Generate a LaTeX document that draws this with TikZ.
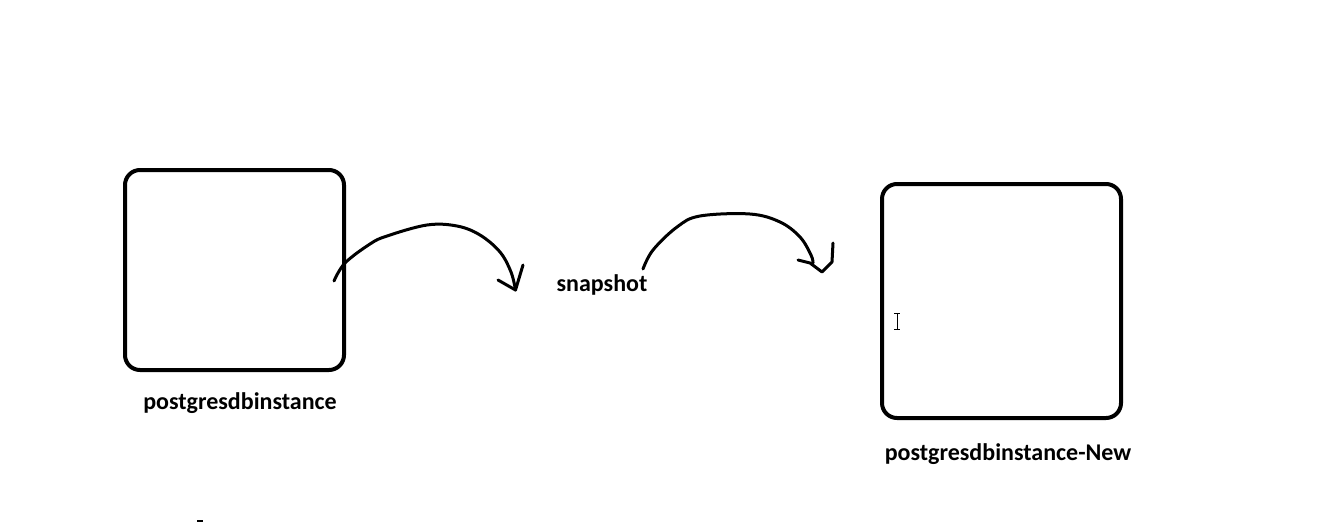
\documentclass[tikz,border=0pt]{standalone}
\usepackage{fontspec}
\setmainfont{Carlito}
\begin{document}
\begin{tikzpicture}[x=1pt,y=-1pt,
  box/.style={draw, line width=4pt, rounded corners=15pt, inner sep=0pt},
  lbl/.style={font=\bfseries\fontsize{24}{28}\selectfont, inner sep=0pt, anchor=base},
  sketch/.style={line width=3pt, line cap=round, line join=round}]
\useasboundingbox[fill=white] (0,0) rectangle (1333,523);
% boxes
\node[box, minimum width=219pt, minimum height=200pt] (src) at (234.5,270) {};
\node[box, minimum width=239pt, minimum height=234pt] (dst) at (1001.5,301) {};
% labels
\node[lbl] (srclbl) at (240,409) {postgresdbinstance};
\node[lbl] (snap) at (602,291) {snapshot};
\node[lbl] (dstlbl) at (1008,460) {postgresdbinstance-New};
% arrow 1
\coordinate (a1s) at (334,281);
\coordinate (a1t) at (515.5,290);
\draw[sketch] plot[smooth, tension=0.6] coordinates {(a1s) (345,263) (370,244) (387,236) (427,225) (457,226) (480,235) (500,252) (511,272) (a1t)};
\draw[sketch] (498,280) -- (a1t) -- (523,265);
% arrow 2
\coordinate (a2s) at (643,269);
\coordinate (a2t) at (822,272);
\draw[sketch] plot[smooth, tension=0.6] coordinates {(a2s) (653,250) (677,227) (700,216) (750,214) (780,222) (800,237) (811,255) (813,263)};
\draw[sketch] (798,260) -- (810,263) -- (a2t) -- (832,262) -- (833,243);
% text cursor
\draw[line width=1pt] (897,313) -- (897,329) (894,313) -- (900,313) (894,329) -- (900,329);
% small mark
\draw[line width=2pt] (197,521) -- (203,521);
\end{tikzpicture}
\end{document}
